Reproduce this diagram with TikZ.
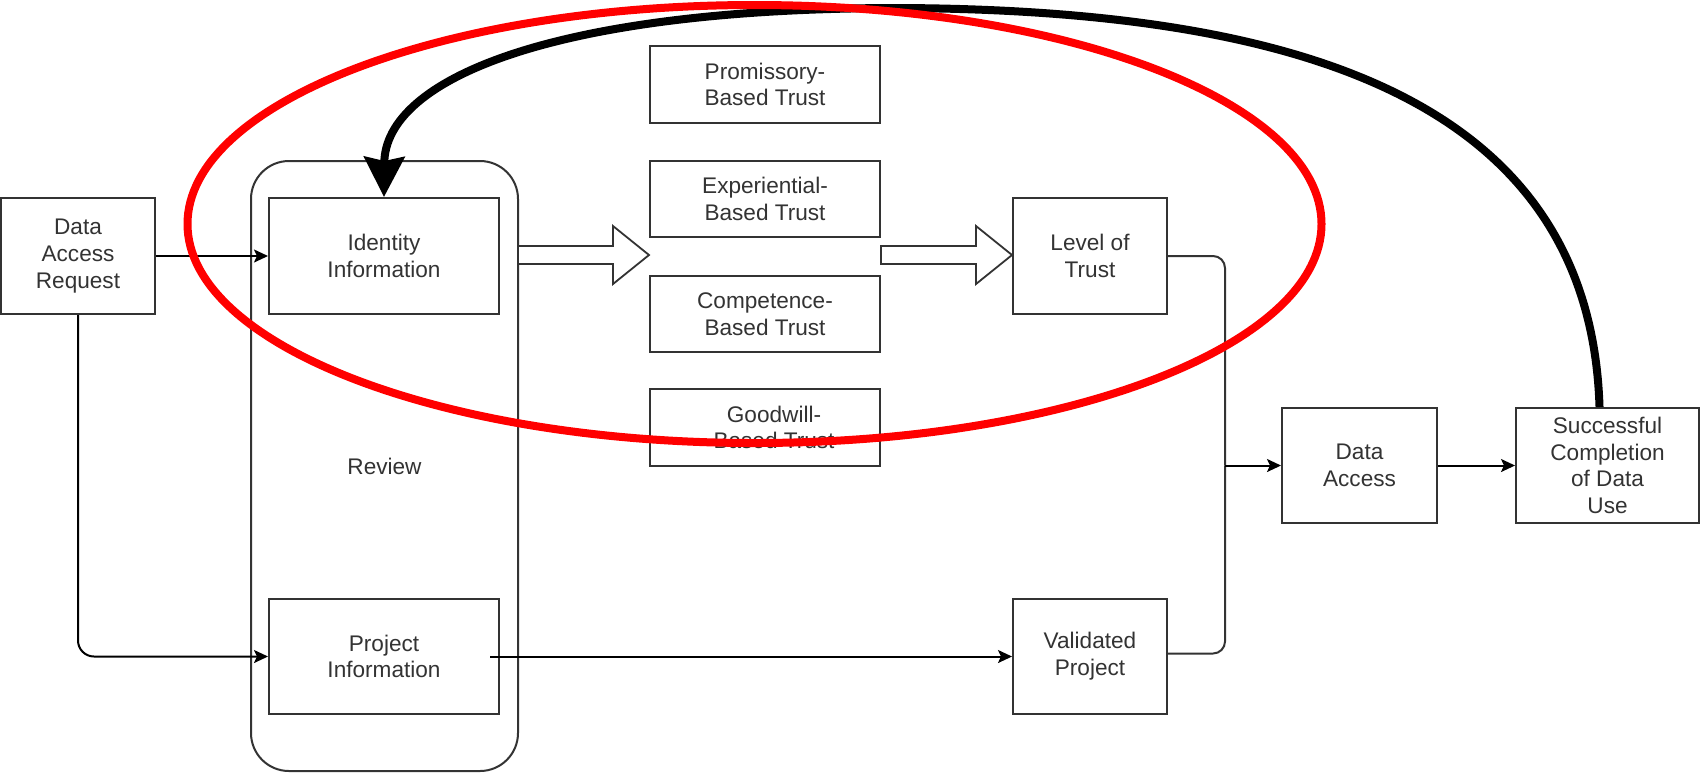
\documentclass[tikz,border=0pt]{standalone}
\usepackage{fontspec}
\setmainfont{Liberation Sans}
\usetikzlibrary{arrows.meta}
\definecolor{linec}{HTML}{333333}
\definecolor{textc}{HTML}{333333}
\newcommand{\dfont}{\fontsize{11.3pt}{13.4pt}\selectfont}
\begin{document}
\begin{tikzpicture}[x=0.5pt, y=-0.5pt,
  box/.style={draw=linec, line width=1pt, fill=white, align=center, inner sep=0pt, text=textc, font=\dfont},
  conn/.style={draw=black, line width=1pt, -{Stealth[length=7pt,width=6.5pt,inset=1.5pt]}},
  plain/.style={draw=linec, line width=1pt},
  hollow/.style={draw=linec, line width=0.9pt, fill=white, line join=miter}]
\useasboundingbox (0,0) rectangle (1700,773);
% review container
\node[box, rounded corners=19pt, minimum width=133.5pt, minimum height=305pt] (rev) at (384.5,466) {Review};
% boxes
\node[box, minimum width=77pt, minimum height=58pt] (dar) at (78,256) {Data\\Access\\Request};
\node[box, minimum width=115pt, minimum height=58pt] (ident) at (384,256) {Identity\\Information};
\node[box, minimum width=115pt, minimum height=57.5pt] (proj) at (384,656.5) {Project\\Information};
\node[box, minimum width=115pt, minimum height=38.5pt] (prom) at (765,84.5) {Promissory-\\Based Trust};
\node[box, minimum width=115pt, minimum height=38pt] (exp) at (765,199) {Experiential-\\Based Trust};
\node[box, minimum width=115pt, minimum height=38pt] (comp) at (765,314) {Competence-\\Based Trust};
\node[box, minimum width=115pt, minimum height=38.5pt] (good) at (765,427.5) {\hspace*{9pt}Goodwill-\\\hspace*{9pt}Based Trust};
\node[box, minimum width=77pt, minimum height=58pt] (lot) at (1090,256) {Level of\\Trust};
\node[box, minimum width=77pt, minimum height=57.5pt] (vp) at (1090,656.5) {Validated\\Project};
\node[box, minimum width=77.5pt, minimum height=57.5pt] (da) at (1359.5,465.5) {Data\\Access};
\node[box, minimum width=91.5pt, minimum height=57.5pt] (succ) at (1607.5,465.5) {Successful\\Completion\\of Data\\Use};
% hollow arrows
\draw[hollow] (518,246) -- (613,246) -- (613,226) -- (649,255) -- (613,284) -- (613,264) -- (518,264) -- cycle;
\draw[hollow] (881,246) -- (976,246) -- (976,226) -- (1012,255) -- (976,284) -- (976,264) -- (881,264) -- cycle;
% connectors
\draw[conn] (dar.east) -- (ident.west);
\draw[conn, rounded corners=8pt] (dar.south) |- (proj.west);
\draw[conn] ([xshift=-5pt]proj.east) -- (vp.west);
\coordinate (j) at (1225,465.5);
\draw[plain, rounded corners=6pt] (lot.east) -| (j);
\draw[plain, rounded corners=6pt] ([yshift=1.5pt]vp.east) -| (j);
\draw[conn] (j) -- (da.west);
\draw[conn] (da.east) -- (succ.west);
% thick feedback arrow
\draw[line width=4pt, -{Stealth[length=20pt,width=20pt,inset=2pt]}] ([xshift=-4pt]succ.north) .. controls (1590,100) and (1300,10) .. (900,8) .. controls (550,8) and (385,80) .. (ident.north);
% red ellipse
\draw[red, line width=4pt] (754.5,224) ellipse [x radius=567, y radius=219];
\end{tikzpicture}
\end{document}
